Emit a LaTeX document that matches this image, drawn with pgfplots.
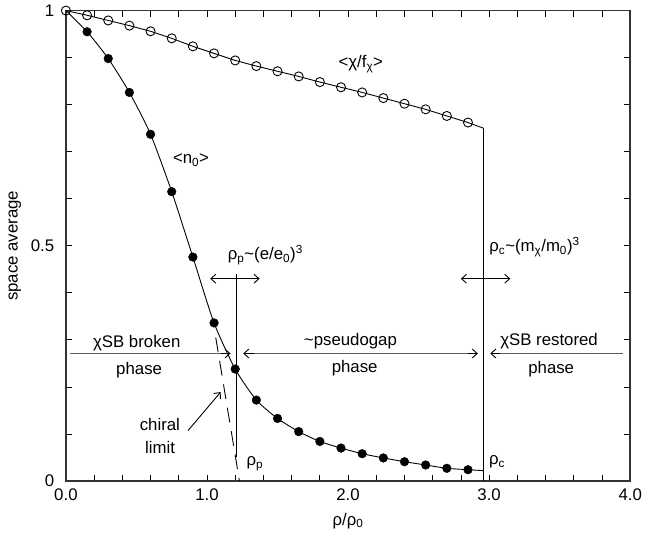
\documentclass[border=0pt]{standalone}
\usepackage{fontspec}
\setmainfont{Liberation Sans}
\usepackage{pgfplots}
\pgfplotsset{compat=1.18}
\usetikzlibrary{arrows.meta}

\newcommand{\sub}[1]{\textsubscript{#1}}
\newcommand{\sups}[1]{\textsuperscript{#1}}

\begin{document}
\fontsize{17}{20}\selectfont
\begin{tikzpicture}[>={Straight Barb[length=5pt,width=9pt]}, font=\fontsize{17}{20}\selectfont]
\begin{axis}[
  scale only axis, width=571pt, height=476pt,
  anchor=south west, at={(0,0)},
  xmin=0, xmax=4, ymin=0, ymax=1,
  clip=false,
  xtick={0,1,2,3,4}, xticklabels={0.0,1.0,2.0,3.0,4.0}, minor x tick num=4,
  ytick={0,0.5,1}, yticklabels={0,0.5,1}, minor y tick num=4,
  /pgf/number format/assume math mode=true,
  tick align=inside, major tick length=6pt, minor tick length=6pt,
  axis line style={black!80, line width=1.6pt},
  tick style={black, line width=0.8pt},
  tick label style={font=\fontsize{17}{20}\selectfont},
  xticklabel style={yshift=-2pt},
  yticklabel style={xshift=-6pt},
  every axis x label/.style={at={(axis description cs:0.5,-0.0847)}, anchor=center},
  every axis y label/.style={at={(axis description cs:-0.0905,0.5)}, rotate=90, anchor=center},
  xlabel={ρ/ρ\sub{0}},
  ylabel={space average},
]
  % <n_0> curve (line, then filled marks)
  \addplot[black, line width=0.9pt, smooth, tension=0.4] coordinates {
    (0,1) (0.15,0.955) (0.30,0.898) (0.45,0.826) (0.60,0.737) (0.75,0.615)
    (0.90,0.476) (1.05,0.336) (1.20,0.238) (1.35,0.172) (1.50,0.133)
    (1.65,0.105) (1.80,0.084) (1.95,0.070) (2.10,0.058) (2.25,0.049)
    (2.40,0.041) (2.55,0.034) (2.70,0.027) (2.85,0.024) (2.96,0.022)
  };
  \addplot[only marks, mark=*, mark size=4.4pt, black] coordinates {
    (0.15,0.955) (0.30,0.898) (0.45,0.826) (0.60,0.737) (0.75,0.615)
    (0.90,0.476) (1.05,0.336) (1.20,0.238) (1.35,0.172) (1.50,0.133)
    (1.65,0.105) (1.80,0.084) (1.95,0.070) (2.10,0.058) (2.25,0.049)
    (2.40,0.041) (2.55,0.034) (2.70,0.027) (2.85,0.024)
  };
  % <chi/f_chi> curve with the drop at rho_c
  \addplot[black, line width=0.9pt] coordinates {
    (0,1) (0.15,0.990) (0.30,0.979) (0.45,0.968) (0.60,0.956) (0.75,0.941)
    (0.90,0.924) (1.05,0.909) (1.20,0.894) (1.35,0.882) (1.50,0.871)
    (1.65,0.860) (1.80,0.848) (1.95,0.837) (2.10,0.826) (2.25,0.814)
    (2.40,0.802) (2.55,0.790) (2.70,0.776) (2.85,0.762) (2.96,0.750) (2.96,0)
  };
  \addplot[only marks, mark=o, mark size=4.6pt, black, mark options={fill=white, line width=0.9pt}] coordinates {
    (0,1) (0.15,0.990) (0.30,0.979) (0.45,0.968) (0.60,0.956) (0.75,0.941)
    (0.90,0.924) (1.05,0.909) (1.20,0.894) (1.35,0.882) (1.50,0.871)
    (1.65,0.860) (1.80,0.848) (1.95,0.837) (2.10,0.826) (2.25,0.814)
    (2.40,0.802) (2.55,0.790) (2.70,0.776) (2.85,0.762)
  };

  % annotations
  \draw[black, line width=0.9pt] (axis cs:1.21,0.441) -- (axis cs:1.21,0.05);
  \draw[black, line width=0.9pt, dash pattern=on 15pt off 9pt] (axis cs:1.062,0.305) -- (axis cs:1.23,0);
  \draw[<->, black, line width=0.9pt] (axis cs:1.023,0.430) -- (axis cs:1.373,0.430);
  \draw[<->, black, line width=0.9pt] (axis cs:2.80,0.430) -- (axis cs:3.15,0.430);
  \draw[->, black, line width=0.9pt] (axis cs:0.865,0.107) -- (axis cs:1.097,0.189);

  \draw[black!65, line width=1.6pt] (axis cs:0.03,0.271) -- (axis cs:1.15,0.271);
  \draw[->, black, line width=0.9pt] (axis cs:1.10,0.271) -- (axis cs:1.167,0.271);
  \draw[black!65, line width=1.6pt] (axis cs:1.275,0.271) -- (axis cs:2.90,0.271);
  \draw[<-, black, line width=0.9pt] (axis cs:1.257,0.271) -- (axis cs:1.33,0.271);
  \draw[->, black, line width=0.9pt] (axis cs:2.85,0.271) -- (axis cs:2.92,0.271);
  \draw[black!65, line width=1.6pt] (axis cs:3.025,0.271) -- (axis cs:3.948,0.271);
  \draw[->, black, line width=0.9pt] (axis cs:3.08,0.271) -- (axis cs:3.008,0.271);

  \node[anchor=base, inner sep=0pt] at (axis cs:2.09,0.879) {<χ/f\sub{χ}>};
  \node[anchor=base, inner sep=0pt] at (axis cs:0.887,0.675) {<n\sub{0}>};
  \node[anchor=base west, inner sep=0pt] at (axis cs:1.146,0.470) {ρ\sub{p}\textasciitilde(e/e\sub{0})\sups{3}};
  \node[anchor=base west, inner sep=0pt] at (axis cs:3.0,0.487) {ρ\sub{c}\textasciitilde(m\sub{χ}/m\sub{0})\sups{3}};
  \node[anchor=base, inner sep=0pt] at (axis cs:0.502,0.284) {χSB broken};
  \node[anchor=base, inner sep=0pt] at (axis cs:0.519,0.226) {phase};
  \node[anchor=base, inner sep=0pt] at (axis cs:2.017,0.287) {\textasciitilde pseudogap};
  \node[anchor=base, inner sep=0pt] at (axis cs:2.047,0.230) {phase};
  \node[anchor=base, inner sep=0pt] at (axis cs:3.425,0.289) {χSB restored};
  \node[anchor=base, inner sep=0pt] at (axis cs:3.44,0.228) {phase};
  \node[anchor=base, inner sep=0pt] at (axis cs:0.666,0.1066) {chiral};
  \node[anchor=base, inner sep=0pt] at (axis cs:0.668,0.058) {limit};
  \node[anchor=base west, inner sep=0pt] at (axis cs:1.28,0.032) {ρ\sub{p}};
  \node[anchor=base west, inner sep=0pt] at (axis cs:2.998,0.035) {ρ\sub{c}};
\end{axis}
\pgfresetboundingbox
\path[use as bounding box] (-66.7pt,-55.3pt) rectangle (589pt,486.7pt);
\end{tikzpicture}
\end{document}
